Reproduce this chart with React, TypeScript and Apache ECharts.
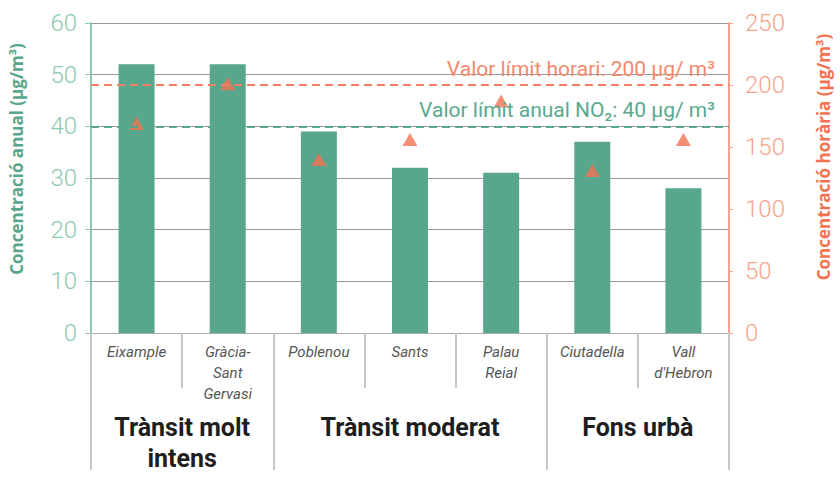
import React, { useEffect, useRef } from "react";
import * as echarts from "echarts";

const categories = ["Eixample", "Gràcia-\nSant\nGervasi", "Poblenou", "Sants", "Palau\nReial", "Ciutadella", "Vall\nd'Hebron"];
const annualValues = [52, 52, 39, 32, 31, 37, 28];
const hourlyValues = [169, 201, 140, 156, 187, 131, 156];
const groups = ["Trànsit molt\nintens", "Trànsit moderat", "Fons urbà"];
const groupSpans = [2, 3, 2];
const annualLimit = 40;
const hourlyLimit = 200;
const annualLimitLabel = "Valor límit anual NO₂: 40 µg/ m³";
const hourlyLimitLabel = "Valor límit horari: 200 µg/ m³";

const GREEN = "#58a78c";
const GREEN_LIGHT = "#8ccab2";
const CORAL = "#f37252";
const CORAL_LIGHT = "#f7a48c";
const FONT = "Roboto";
const TITLE_FONT = "Open Sans";

export default function App() {
  const ref = useRef<HTMLDivElement>(null);
  useEffect(() => {
    if (!ref.current) return;
    const chart = echarts.init(ref.current, null, { renderer: "svg" });
    const bounds: number[] = [0];
    groupSpans.forEach((s) => bounds.push(bounds[bounds.length - 1] + s));
    const centers = groupSpans.map((s, i) => bounds[i] + s / 2);
    chart.setOption({
      animation: false,
      textStyle: { fontFamily: FONT },
      grid: { left: 86, right: 111, top: 23, bottom: 154 },
      xAxis: [
        {
          type: "category",
          data: categories,
          boundaryGap: true,
          axisLine: { show: true, lineStyle: { color: "#aaa", width: 1 } },
          axisTick: { show: true, interval: 0, length: 55, lineStyle: { color: "#c8c8c8", width: 2 } },
          axisLabel: {
            interval: 0,
            margin: 8,
            fontSize: 15,
            fontStyle: "italic",
            color: "#555",
            lineHeight: 21,
            verticalAlign: "top",
            fontFamily: FONT,
          },
          splitLine: { show: false },
        },
        {
          type: "value",
          position: "bottom",
          min: 0,
          max: bounds[bounds.length - 1],
          axisLine: { show: false },
          splitLine: { show: false },
          axisTick: {
            show: true,
            customValues: bounds,
            length: 137,
            lineStyle: { color: "#c8c8c8", width: 2 },
          },
          axisLabel: {
            show: true,
            customValues: centers,
            formatter: (v: number) => {
              const i = centers.findIndex((c) => Math.abs(c - v) < 1e-6);
              return i >= 0 ? groups[i] : "";
            },
            margin: 79,
            fontSize: 25,
            fontWeight: "bold",
            color: "#1e1e1e",
            lineHeight: 31,
            verticalAlign: "top",
            fontFamily: FONT,
          },
        },
      ],
      yAxis: [
        {
          type: "value",
          min: 0,
          max: 60,
          interval: 10,
          name: "Concentració anual (µg/m³)",
          nameLocation: "middle",
          nameRotate: 90,
          nameGap: 66,
          nameTextStyle: {
            color: GREEN,
            fontSize: 17,
            fontWeight: "bold",
            fontFamily: TITLE_FONT,
            padding: [0, 0, 0, 38],
          },
          axisLine: { show: true, lineStyle: { color: GREEN_LIGHT, width: 2 } },
          axisTick: { show: true, length: 6, lineStyle: { color: GREEN_LIGHT, width: 1 } },
          axisLabel: { color: GREEN_LIGHT, fontSize: 24, margin: 14, fontFamily: FONT, fontWeight: 300 },
          splitLine: { show: true, lineStyle: { color: "#999", width: 1 } },
        },
        {
          type: "value",
          min: 0,
          max: 250,
          interval: 50,
          position: "right",
          name: "Concentració horària (µg/m³)",
          nameLocation: "middle",
          nameRotate: 90,
          nameGap: 86,
          nameTextStyle: {
            color: CORAL,
            fontSize: 17,
            fontWeight: "bold",
            fontFamily: TITLE_FONT,
            padding: [0, 0, 0, 42],
          },
          axisLine: { show: true, lineStyle: { color: CORAL_LIGHT, width: 2 } },
          axisTick: { show: true, length: 4, lineStyle: { color: CORAL_LIGHT, width: 1 } },
          axisLabel: { color: CORAL_LIGHT, fontSize: 24, margin: 16, fontFamily: FONT, fontWeight: 300 },
          splitLine: { show: false },
        },
      ],
      series: [
        {
          type: "bar",
          xAxisIndex: 0,
          yAxisIndex: 0,
          data: annualValues,
          barWidth: 36,
          itemStyle: { color: GREEN },
          markLine: {
            silent: true,
            symbol: "none",
            data: [{ yAxis: annualLimit }],
            lineStyle: { color: GREEN, type: [8, 5], width: 2 },
            label: {
              show: true,
              position: "insideEndTop",
              formatter: annualLimitLabel,
              color: "#5aa98e",
              fontSize: 21,
              distance: [14, 6],
              fontFamily: FONT,
            },
          },
          z: 2,
        },
        {
          type: "scatter",
          xAxisIndex: 0,
          yAxisIndex: 1,
          data: hourlyValues,
          symbol: "triangle",
          symbolSize: [15, 13],
          itemStyle: { color: CORAL },
          markLine: {
            silent: true,
            symbol: "none",
            data: [{ yAxis: hourlyLimit }],
            lineStyle: { color: "#f47e62", type: [8, 5], width: 2 },
            label: {
              show: true,
              position: "insideEndTop",
              formatter: hourlyLimitLabel,
              color: "#f4896e",
              fontSize: 21,
              distance: [14, 6],
              fontFamily: FONT,
            },
          },
          z: 3,
        },
      ],
    });
    return () => chart.dispose();
  }, []);
  return <div ref={ref} style={{ position: "absolute", left: 0, top: 0, width: 840, height: 487 }} />;
}
